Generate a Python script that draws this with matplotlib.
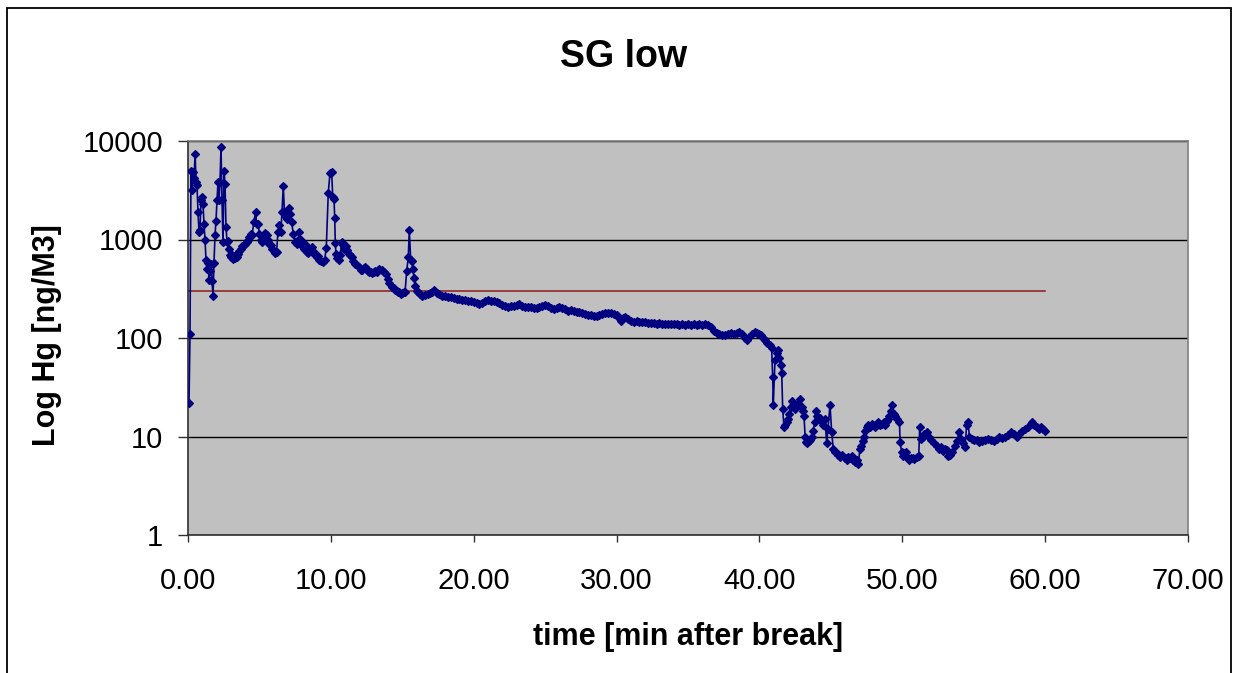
import matplotlib
matplotlib.use("Agg")
import matplotlib.pyplot as plt
from matplotlib import ticker as mticker
from matplotlib.patches import Rectangle

plt.rcParams['font.family'] = ['Liberation Sans', 'DejaVu Sans']

# Hg concentration after the break (ng/M3)
time_min = [
    0.07, 0.14, 0.21, 0.27, 0.34, 0.42, 0.50, 0.56, 0.63, 0.70, 0.77, 0.84, 0.91, 0.98,
    1.05, 1.12, 1.19, 1.26, 1.33, 1.40, 1.47, 1.54, 1.61, 1.68, 1.75, 1.82, 1.89, 1.96,
    2.03, 2.10, 2.17, 2.24, 2.31, 2.38, 2.45, 2.52, 2.59, 2.66, 2.73, 2.80, 2.87, 2.94,
    3.01, 3.08, 3.15, 3.22, 3.29, 3.36, 3.43, 3.50, 3.60, 3.70, 3.80, 3.90, 4.00, 4.10,
    4.20, 4.30, 4.40, 4.50, 4.60, 4.74, 4.80, 4.90, 5.00, 5.10, 5.20, 5.30, 5.40, 5.50,
    5.60, 5.70, 5.80, 5.90, 6.00, 6.10, 6.20, 6.30, 6.40, 6.50, 6.58, 6.67, 6.75, 6.85,
    6.95, 7.07, 7.15, 7.25, 7.37, 7.50, 7.60, 7.70, 7.80, 7.90, 8.00, 8.10, 8.20, 8.30,
    8.40, 8.50, 8.60, 8.70, 8.80, 8.90, 9.00, 9.10, 9.20, 9.30, 9.44, 9.56, 9.68, 9.82,
    9.94, 10.06, 10.13, 10.22, 10.27, 10.31, 10.36, 10.45, 10.55, 10.65, 10.76, 10.85,
    10.95, 11.05, 11.15, 11.25, 11.35, 11.46, 11.56, 11.66, 11.80, 11.95, 12.10, 12.20,
    12.30, 12.40, 12.50, 12.60, 12.70, 12.80, 12.90, 13.00, 13.10, 13.20, 13.30, 13.40,
    13.56, 13.70, 13.85, 14.00, 14.10, 14.26, 14.40, 14.49, 14.60, 14.70, 14.80, 14.90,
    15.00, 15.10, 15.19, 15.31, 15.42, 15.49, 15.59, 15.66, 15.73, 15.82, 15.90, 16.00,
    16.12, 16.24, 16.40, 16.60, 16.80, 16.94, 17.10, 17.25, 17.40, 17.60, 17.80, 18.00,
    18.20, 18.40, 18.60, 18.80, 19.00, 19.20, 19.40, 19.60, 19.80, 20.00, 20.20, 20.40,
    20.60, 20.80, 21.00, 21.20, 21.40, 21.60, 21.80, 22.00, 22.20, 22.40, 22.60, 22.80,
    23.00, 23.20, 23.40, 23.60, 23.80, 24.00, 24.20, 24.40, 24.60, 24.80, 25.00, 25.20,
    25.40, 25.60, 25.80, 26.00, 26.20, 26.40, 26.60, 26.80, 27.00, 27.20, 27.40, 27.60,
    27.80, 28.00, 28.20, 28.40, 28.60, 28.80, 29.00, 29.20, 29.40, 29.60, 29.80, 30.00,
    30.15, 30.30, 30.45, 30.60, 30.80, 31.00, 31.20, 31.40, 31.60, 31.80, 32.00, 32.20,
    32.40, 32.60, 32.80, 33.00, 33.20, 33.40, 33.60, 33.80, 34.00, 34.20, 34.40, 34.60,
    34.80, 35.00, 35.20, 35.40, 35.60, 35.80, 36.00, 36.20, 36.40, 36.60, 36.80, 37.00,
    37.20, 37.40, 37.60, 37.80, 38.00, 38.20, 38.40, 38.60, 38.80, 39.00, 39.10, 39.30,
    39.50, 39.70, 39.85, 40.00, 40.10, 40.27, 40.40, 40.55, 40.74, 40.85, 40.93, 40.97,
    41.09, 41.20, 41.32, 41.40, 41.49, 41.56, 41.63, 41.72, 41.80, 41.90, 42.02, 42.10,
    42.18, 42.26, 42.35, 42.42, 42.49, 42.60, 42.70, 42.84, 42.95, 43.07, 43.12, 43.20,
    43.26, 43.35, 43.45, 43.54, 43.65, 43.77, 43.87, 43.96, 44.05, 44.15, 44.24, 44.35,
    44.45, 44.59, 44.71, 44.80, 44.94, 45.06, 45.17, 45.30, 45.40, 45.52, 45.65, 45.80,
    45.99, 46.10, 46.20, 46.34, 46.45, 46.55, 46.69, 46.80, 46.92, 47.04, 47.13, 47.23,
    47.30, 47.39, 47.50, 47.62, 47.75, 47.85, 47.97, 48.10, 48.20, 48.32, 48.45, 48.55,
    48.70, 48.80, 48.90, 49.00, 49.10, 49.20, 49.30, 49.40, 49.50, 49.65, 49.80, 49.85,
    49.95, 50.03, 50.15, 50.25, 50.35, 50.50, 50.60, 50.75, 50.85, 51.00, 51.15, 51.22,
    51.30, 51.45, 51.55, 51.70, 51.85, 52.00, 52.20, 52.40, 52.55, 52.70, 52.85, 53.00,
    53.10, 53.20, 53.35, 53.50, 53.70, 53.85, 53.95, 54.10, 54.25, 54.40, 54.50, 54.60,
    54.70, 54.85, 55.00, 55.20, 55.40, 55.60, 55.80, 56.00, 56.20, 56.40, 56.60, 56.80,
    57.00, 57.20, 57.40, 57.60, 57.80, 58.00, 58.20, 58.40, 58.60, 58.80, 59.00, 59.10,
    59.25, 59.40, 59.55, 59.70, 59.85, 60.00,
]

hg_ng_m3 = [
    22, 110, 5000, 3200, 4800, 4200, 7400, 3800, 3600, 1900, 1200, 1250, 2500, 2700,
    2300, 1450, 1000, 620, 500, 580, 390, 480, 560, 380, 270, 580, 1100, 1550,
    2500, 3800, 2500, 3800, 8600, 2500, 940, 5000, 3700, 1340, 950, 960, 800, 700,
    660, 690, 640, 680, 650, 700, 670, 720, 760, 800, 850, 880, 900, 950,
    1000, 1050, 1150, 1120, 1500, 1900, 1450, 1450, 1150, 1000, 950, 1100, 1170, 1100,
    1000, 900, 870, 800, 760, 730, 750, 1200, 1400, 1200, 1900, 3500, 1900, 1700,
    1600, 2100, 1800, 1500, 1150, 950, 900, 1000, 1200, 1000, 850, 800, 900, 750,
    730, 800, 780, 830, 750, 700, 660, 680, 620, 600, 590, 620, 820, 3000,
    4700, 4800, 2700, 2600, 1650, 920, 720, 650, 620, 700, 950, 880,
    800, 850, 780, 720, 700, 660, 600, 570, 550, 520, 490, 490,
    510, 520, 500, 480, 470, 470, 460, 470, 480, 470, 490, 500,
    490, 470, 450, 400, 360, 330, 320, 310, 300, 290, 290, 280,
    285, 290, 290, 480, 660, 1250, 620, 600, 500, 410, 340, 300,
    290, 280, 270, 275, 280, 285, 295, 305, 285, 278, 270, 265,
    260, 258, 255, 250, 248, 245, 243, 238, 235, 232, 228, 222,
    228, 240, 245, 238, 235, 232, 228, 218, 212, 205, 210, 212,
    215, 220, 212, 205, 205, 208, 204, 200, 205, 212, 215, 210,
    203, 198, 200, 205, 200, 195, 190, 192, 188, 185, 182, 178,
    175, 172, 170, 168, 168, 172, 176, 178, 180, 178, 176, 172,
    160, 148, 158, 165, 155, 150, 147, 148, 145, 144, 146, 143,
    142, 143, 140, 142, 140, 138, 140, 138, 140, 138, 137, 139,
    137, 138, 136, 138, 136, 138, 137, 138, 135, 128, 118, 112,
    110, 108, 107, 110, 112, 110, 113, 115, 110, 100, 95, 102,
    110, 114, 112, 110, 108, 100, 95, 90, 85, 80, 40, 21,
    60, 70, 75, 62, 53, 44, 19, 12.5, 13, 14, 15, 17,
    20, 23, 21, 20, 19, 21, 22, 24, 20, 18, 16, 10,
    8.8, 8.6, 9, 9.2, 10, 11.5, 14, 18, 16, 15, 15.5, 14,
    13, 15, 8.5, 12, 21, 11, 7.5, 7, 6.8, 6.5, 6.2, 6.5,
    6, 5.8, 6.2, 6, 6.3, 5.8, 5.5, 5.8, 5.3, 7.5, 8, 9,
    10, 11.5, 12.5, 13, 12.5, 13.5, 13, 12.5, 13, 14, 13, 13.5,
    14, 13, 14.5, 15, 16, 18, 21, 17, 16, 15, 14, 8.8,
    7, 6.3, 6.8, 7, 6.2, 5.8, 6, 6, 5.9, 6.2, 6.3, 12.5,
    9.5, 10, 10.5, 11, 10, 9.3, 8.5, 8, 7.5, 7.8, 7.2, 7.5,
    7.3, 6.4, 6.5, 7, 8, 9, 11, 9.5, 8.5, 7.8, 13, 14,
    10, 9.5, 9.2, 9.3, 8.8, 9, 9.2, 9.5, 9.3, 9, 9.5, 9.8,
    9.6, 10, 10.3, 11, 10.5, 10, 10.5, 11.5, 12, 12.5, 13.5, 14,
    13, 12.5, 12, 12.5, 12, 11.5,
]

limit_x = [0, 60]
limit_y = [300, 300]

x_ticks = [0, 10, 20, 30, 40, 50, 60, 70]
y_ticks = [1, 10, 100, 1000, 10000]

W, H = 1238, 673
fig = plt.figure(figsize=(W / 100, H / 100), dpi=100)
fig.patch.set_facecolor('white')

# outer chart border
fig.patches.append(Rectangle((7 / W, -0.02), (1231 - 7) / W, 1.02 - 8 / H,
                             transform=fig.transFigure, fill=False,
                             edgecolor='black', linewidth=1.3))

ax = fig.add_axes([188 / W, (H - 535) / H, 1000 / W, 394 / H])
ax.set_facecolor('#C0C0C0')

ax.plot(time_min, hg_ng_m3, '-D', color='#000080', linewidth=1.2,
        markersize=4.4, markerfacecolor='#000080', markeredgecolor='#000080',
        markeredgewidth=0.9, zorder=3)
ax.plot(limit_x, limit_y, color='#8B1A1A', linewidth=1.1, zorder=2)

ax.set_yscale('log')
ax.set_ylim(1, 10000)
ax.set_xlim(0, 70)
ax.set_yticks(y_ticks)
ax.yaxis.set_major_formatter(mticker.FuncFormatter(lambda v, p: f"{int(v)}"))
ax.yaxis.set_minor_locator(mticker.NullLocator())
ax.set_xticks(x_ticks)
ax.xaxis.set_major_formatter(mticker.FormatStrFormatter('%.2f'))

ax.grid(axis='y', which='major', color='black', linewidth=1)
ax.set_axisbelow(True)

for side in ['top', 'right']:
    ax.spines[side].set_color('#808080')
    ax.spines[side].set_linewidth(1.2)
for side in ['left', 'bottom']:
    ax.spines[side].set_color('#303030')
    ax.spines[side].set_linewidth(1.2)

ax.tick_params(axis='y', length=7, width=1, pad=11, labelsize=21, color='#303030')
ax.tick_params(axis='x', length=5, width=1, pad=18, labelsize=21, color='#303030')

fig.text(0.5 * (557 + 690) / W, 1 - 57 / H, "SG low", ha='center', va='center',
         fontsize=27, fontweight='bold')
fig.text(688 / W, 1 - 637 / H, "time [min after break]", ha='center', va='center',
         fontsize=22, fontweight='bold')
fig.text(47 / W, 1 - 335 / H, "Log Hg [ng/M3]", ha='center', va='center',
         rotation=90, fontsize=22, fontweight='bold')

fig.savefig("out.png", dpi=100)
